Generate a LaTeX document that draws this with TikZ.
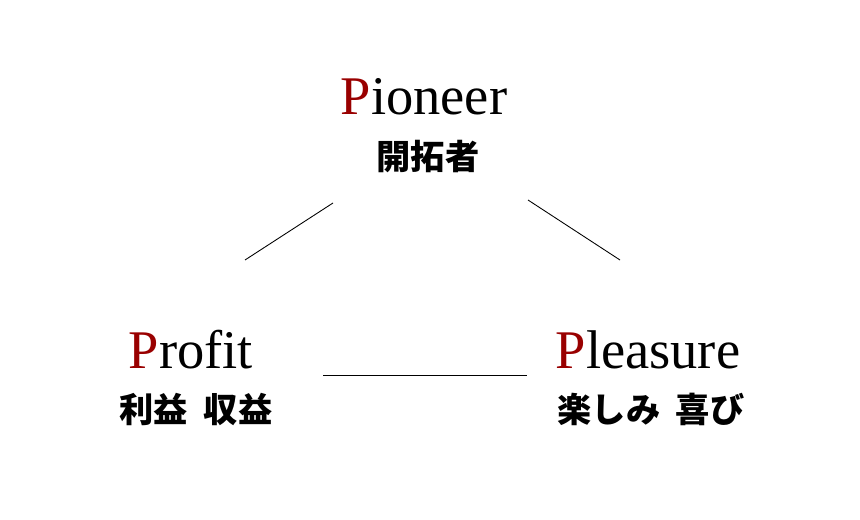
\documentclass[tikz,border=0pt]{standalone}
\usepackage{fontspec}
\setmainfont{Liberation Serif}
\newfontfamily\cjk{Noto Sans CJK JP}
\definecolor{pred}{HTML}{990000}
\begin{document}
\begin{tikzpicture}[x=0.02cm,y=-0.02cm,
  title/.style={font=\fontsize{31}{34}\selectfont, inner sep=0pt},
  sub/.style={font=\cjk\bfseries\fontsize{19.5}{22}\selectfont, inner sep=0pt},
  link/.style={draw=black, line width=0.5pt}]
\useasboundingbox (0,0) rectangle (860,520);
\node[title] (pio) at (424,97) {\textcolor{pred}{P}ioneer};
\node[sub] (pioj) at (428,157) {開拓者};
\node[title] (pro) at (191,350) {\textcolor{pred}{P}rofit};
\node[sub] (proj) at (196,409) {利益\ \ 収益};
\node[title] (ple) at (648,350) {\textcolor{pred}{P}leasure};
\node[sub] (plej) at (651,409) {楽しみ\ \ 喜び};
\coordinate (a1) at (333,203); \coordinate (a2) at (245,260);
\coordinate (b1) at (528,200); \coordinate (b2) at (620,260);
\coordinate (c1) at (323,375); \coordinate (c2) at (527,375);
\draw[link] (a1) -- (a2);
\draw[link] (b1) -- (b2);
\draw[link] (c1) -- (c2);
\end{tikzpicture}
\end{document}
